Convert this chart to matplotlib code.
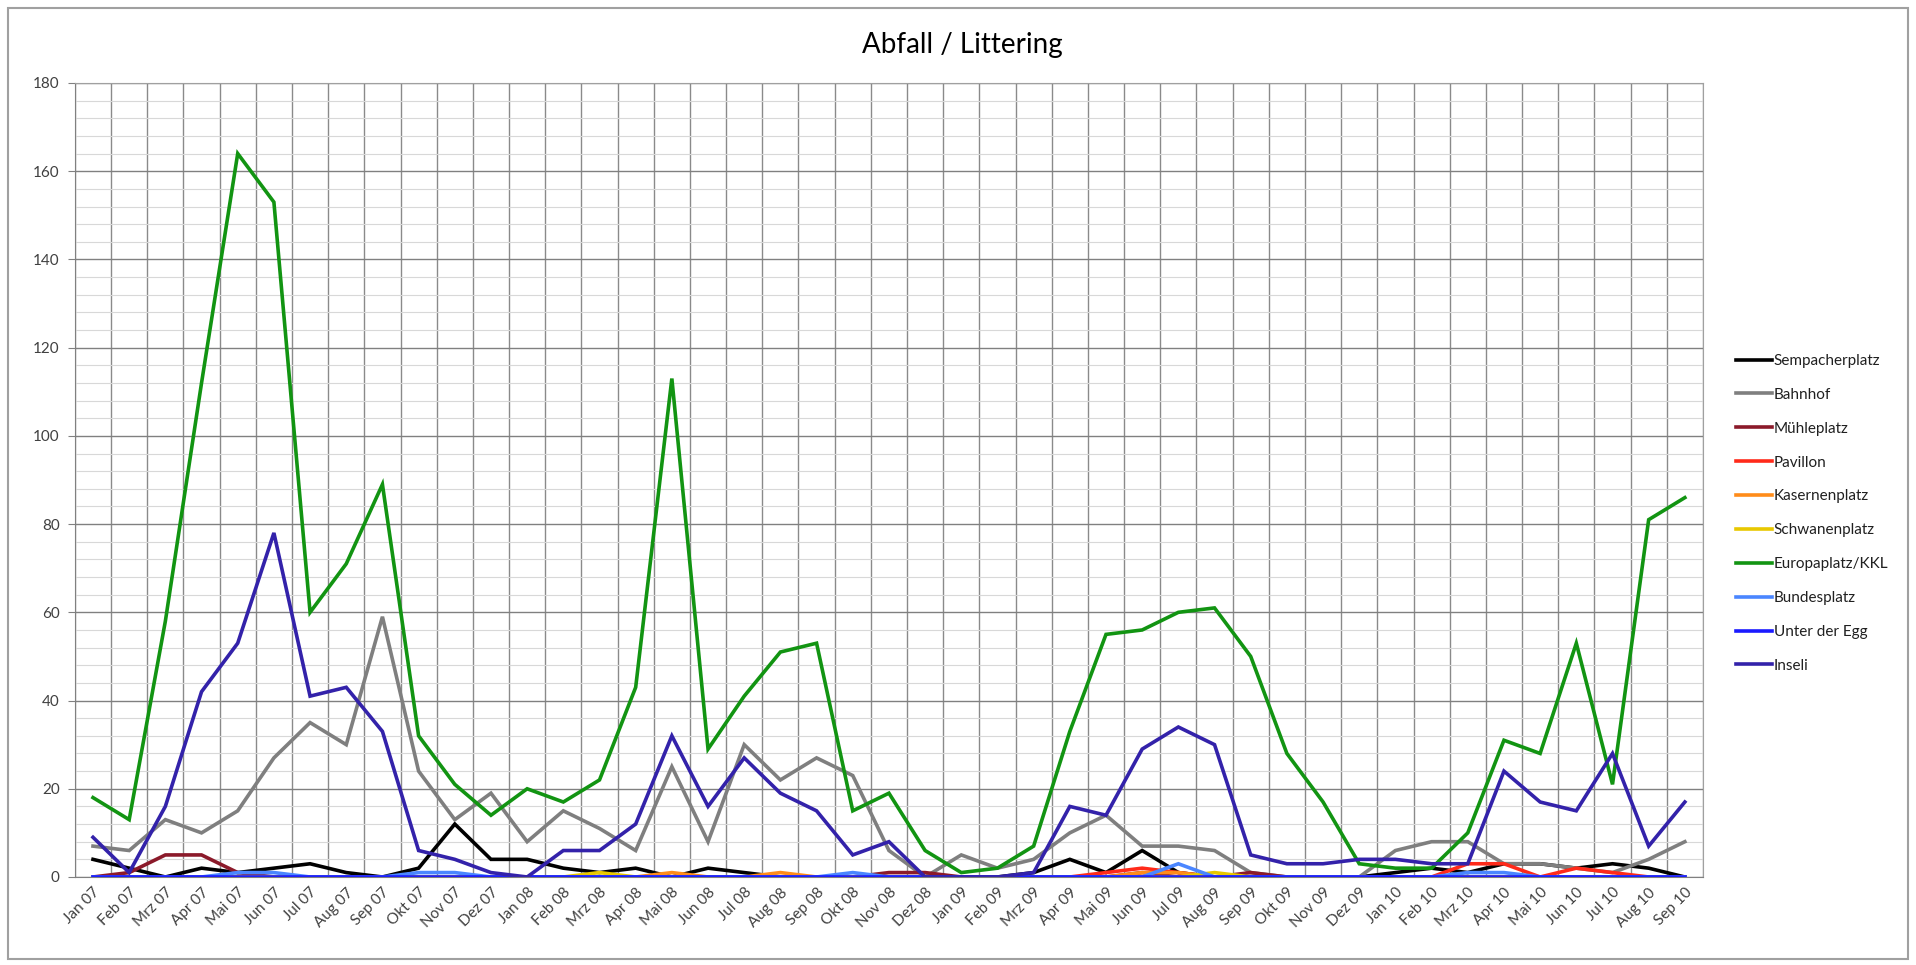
import matplotlib
matplotlib.use("Agg")
import matplotlib.pyplot as plt
from matplotlib.patches import Rectangle
import numpy as np

months = ["Jan 07", "Feb 07", "Mrz 07", "Apr 07", "Mai 07", "Jun 07", "Jul 07", "Aug 07", "Sep 07",
          "Okt 07", "Nov 07", "Dez 07", "Jan 08", "Feb 08", "Mrz 08", "Apr 08", "Mai 08", "Jun 08",
          "Jul 08", "Aug 08", "Sep 08", "Okt 08", "Nov 08", "Dez 08", "Jan 09", "Feb 09", "Mrz 09",
          "Apr 09", "Mai 09", "Jun 09", "Jul 09", "Aug 09", "Sep 09", "Okt 09", "Nov 09", "Dez 09",
          "Jan 10", "Feb 10", "Mrz 10", "Apr 10", "Mai 10", "Jun 10", "Jul 10", "Aug 10", "Sep 10"]

sempacherplatz = [4, 2, 0, 2, 1, 2, 3, 1, 0, 2, 12, 4, 4, 2, 1, 2, 0, 2, 1, 0, 0, 0, 0, 0, 0, 0, 1,
                  4, 1, 6, 1, 0, 0, 0, 0, 0, 1, 2, 1, 3, 3, 2, 3, 2, 0]
bahnhof = [7, 6, 13, 10, 15, 27, 35, 30, 59, 24, 13, 19, 8, 15, 11, 6, 25, 8, 30, 22, 27, 23, 6, 0,
           5, 2, 4, 10, 14, 7, 7, 6, 1, 0, 0, 0, 6, 8, 8, 3, 3, 2, 1, 4, 8]
muehleplatz = [0, 1, 5, 5, 1, 0, 0, 0, 0, 0, 0, 0, 0, 0, 0, 0, 0, 0, 0, 0, 0, 0, 1, 1, 0, 0, 0,
               0, 0, 1, 0, 0, 1, 0, 0, 0, 0, 0, 0, 0, 0, 0, 0, 0, 0]
pavillon = [0, 0, 0, 0, 0, 0, 0, 0, 0, 0, 0, 0, 0, 0, 0, 0, 0, 0, 0, 0, 0, 0, 0, 0, 0, 0, 0,
            0, 1, 2, 1, 0, 0, 0, 0, 0, 0, 0, 3, 3, 0, 2, 1, 0, 0]
kasernenplatz = [0, 0, 0, 0, 0, 0, 0, 0, 0, 0, 0, 0, 0, 0, 0, 0, 1, 0, 0, 1, 0, 0, 0, 0, 0, 0, 0,
                 0, 0, 1, 1, 0, 0, 0, 0, 0, 0, 0, 0, 0, 0, 0, 0, 0, 0]
schwanenplatz = [0, 0, 0, 0, 0, 0, 0, 0, 0, 0, 0, 0, 0, 0, 1, 0, 0, 0, 0, 0, 0, 0, 0, 0, 0, 0, 0,
                 0, 0, 0, 0, 1, 0, 0, 0, 0, 0, 0, 0, 0, 0, 0, 0, 0, 0]
europaplatz = [18, 13, 58, 112, 164, 153, 60, 71, 89, 32, 21, 14, 20, 17, 22, 43, 113, 29, 41, 51,
               53, 15, 19, 6, 1, 2, 7, 33, 55, 56, 60, 61, 50, 28, 17, 3, 2, 2, 10, 31, 28, 53, 21,
               81, 86]
bundesplatz = [0, 0, 0, 0, 1, 1, 0, 0, 0, 1, 1, 0, 0, 0, 0, 0, 0, 0, 0, 0, 0, 1, 0, 0, 0, 0, 0,
               0, 0, 0, 3, 0, 0, 0, 0, 0, 0, 0, 1, 1, 0, 0, 0, 0, 0]
unter_der_egg = [0] * 45
inseli = [9, 1, 16, 42, 53, 78, 41, 43, 33, 6, 4, 1, 0, 6, 6, 12, 32, 16, 27, 19, 15, 5, 8, 0, 0,
          0, 1, 16, 14, 29, 34, 30, 5, 3, 3, 4, 4, 3, 3, 24, 17, 15, 28, 7, 17]

series_names = ["Sempacherplatz", "Bahnhof", "Mühleplatz", "Pavillon", "Kasernenplatz",
                "Schwanenplatz", "Europaplatz/KKL", "Bundesplatz", "Unter der Egg", "Inseli"]
series_values = [sempacherplatz, bahnhof, muehleplatz, pavillon, kasernenplatz,
                 schwanenplatz, europaplatz, bundesplatz, unter_der_egg, inseli]
colors = ["#000000", "#7f7f7f", "#8b1a2a", "#ff2a1a", "#ff8c1a",
          "#e8c800", "#129412", "#4a86ff", "#1a1aff", "#3322aa"]

plt.rcParams['font.family'] = ['Lato', 'DejaVu Sans']

fig = plt.figure(figsize=(19.16, 9.65), dpi=100)
fig.patch.set_facecolor("white")
fig.add_artist(Rectangle((0.004, 0.006), 0.992, 0.986, transform=fig.transFigure,
                         fill=False, edgecolor="#a0a0a0", linewidth=1.5))

ax = fig.add_axes([0.0391, 0.0912, 0.8497, 0.8228])
n = len(months)
x = np.arange(n)

for name, vals, c in zip(series_names, series_values, colors):
    ax.plot(x, vals, color=c, linewidth=2.6, label=name, solid_joinstyle="miter")

ax.set_xlim(-0.5, n - 0.5)
ax.set_ylim(0, 180)
ax.set_yticks(np.arange(0, 181, 20))
ax.set_yticks(np.arange(0, 181, 4), minor=True)
ax.set_xticks(x)
ax.set_xticklabels(months, rotation=45, ha="right", rotation_mode="anchor",
                   fontsize=11, color="#404040")
ax.set_xticks(np.arange(-0.5, n, 1), minor=True)
ax.tick_params(axis="x", which="both", length=0, pad=6)
ax.tick_params(axis="y", which="major", length=5, color="#808080", labelsize=11,
               labelcolor="#404040", pad=6)
ax.tick_params(axis="y", which="minor", length=0)

ax.grid(True, axis="y", which="major", color="#808080", linewidth=1.0)
ax.grid(True, axis="y", which="minor", color="#d8d8d8", linewidth=0.8)
ax.grid(True, axis="x", which="minor", color="#8a8a8a", linewidth=1.0)
ax.grid(False, axis="x", which="major")
ax.set_axisbelow(True)
for s in ["top", "right"]:
    ax.spines[s].set_color("#a0a0a0")
for s in ["left", "bottom"]:
    ax.spines[s].set_color("#808080")

fig.text(0.502, 0.953, "Abfall / Littering", ha="center", va="center", fontsize=20,
         color="#000000")

leg = ax.legend(loc="center left", bbox_to_anchor=(1.02, 0.458), frameon=False,
                fontsize=11, handlelength=2.4, handletextpad=0.1, labelspacing=1.3,
                borderaxespad=0, borderpad=0)
for t in leg.get_texts():
    t.set_color("#202020")

fig.savefig("out.png", dpi=100, facecolor="white")
